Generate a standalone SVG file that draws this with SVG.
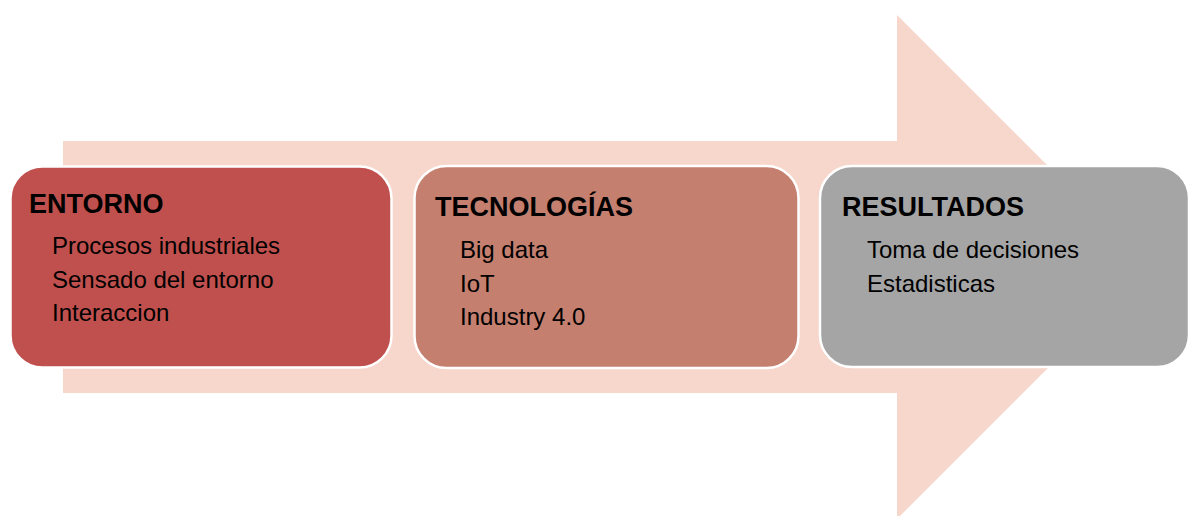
<svg xmlns="http://www.w3.org/2000/svg" width="1190" height="516" viewBox="0 0 1190 516">
<style>
.box{stroke:#FFFFFF;stroke-width:2.5}
.t{font-family:"Liberation Sans",Arial,sans-serif;font-weight:bold;font-size:27px;fill:#000}
.i{font-family:"Liberation Sans",Arial,sans-serif;font-size:24px;fill:#000}
</style>
<rect width="1190" height="516" fill="#FFFFFF"/>
<g id="arrow">
<polygon points="63,141 897,141 897,15 1149,267 897,519 897,393 63,393" fill="#F7D6CB"/>
</g>
<g id="connectors"></g>
<g id="entorno">
<rect class="box" x="10.5" y="166.5" width="381" height="201" rx="32" fill="#C0504D"/>
<text class="t" x="29" y="213">ENTORNO</text>
<text class="i" x="52" y="254">Procesos industriales</text>
<text class="i" x="52" y="288">Sensado del entorno</text>
<text class="i" x="52" y="321">Interaccion</text>
</g>
<g id="tecnologias">
<rect class="box" x="414.5" y="166" width="384" height="202" rx="32" fill="#C47F6F"/>
<text class="t" x="435" y="216">TECNOLOGÍAS</text>
<text class="i" x="460" y="258">Big data</text>
<text class="i" x="460" y="292">IoT</text>
<text class="i" x="460" y="325">Industry 4.0</text>
</g>
<g id="resultados">
<rect class="box" x="820" y="166" width="369" height="201" rx="32" fill="#A5A5A5"/>
<text class="t" x="842" y="216">RESULTADOS</text>
<text class="i" x="867" y="258">Toma de decisiones</text>
<text class="i" x="867" y="292">Estadisticas</text>
</g>
</svg>
